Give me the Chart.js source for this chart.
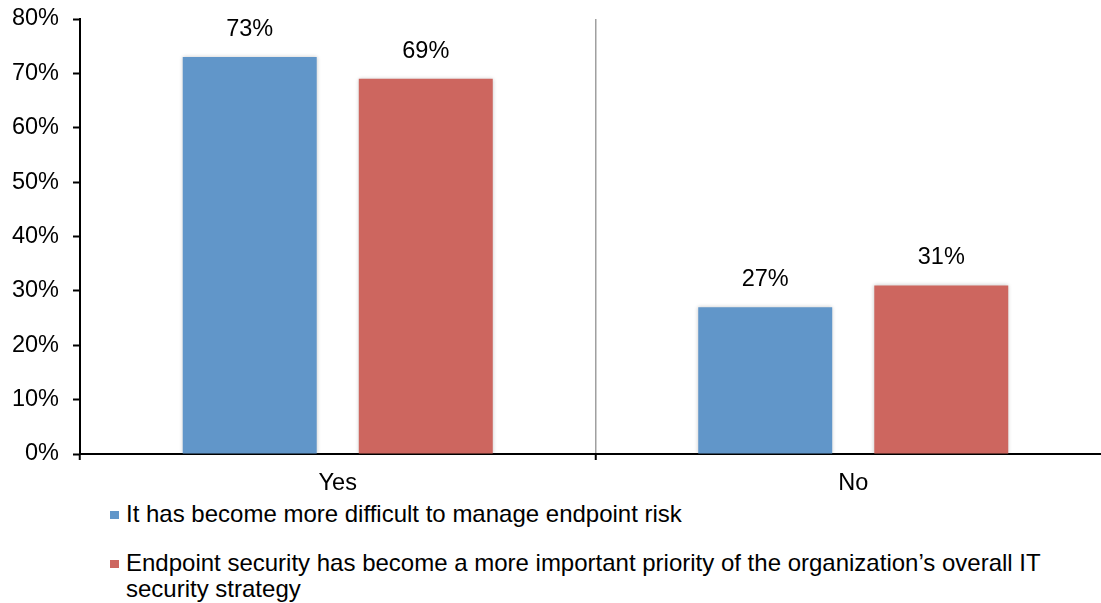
<!DOCTYPE html>
<html>
<head>
<meta charset="utf-8">
<script src="https://cdn.jsdelivr.net/npm/chart.js@4/dist/chart.umd.min.js"></script>
<style>
  html, body { margin: 0; padding: 0; background: #fff; overflow: hidden; }
  body { width: 1101px; height: 603px; position: relative; font-family: "Liberation Sans", Arial, sans-serif; }
  #wrap { position: absolute; left: 0; top: 0; width: 1111px; height: 495px; }
  #legend { position: absolute; left: 110px; top: 501px; width: 960px; font-size: 24px; color: #000; }
  .item { display: flex; align-items: flex-start; line-height: 26px; margin-bottom: 23px; }
  .box { width: 9px; height: 8px; margin-top: 10px; margin-right: 7px; flex: none; }
  .text { width: 935px; }
</style>
</head>
<body>
<div id="wrap"><canvas id="chart"></canvas></div>
<div id="legend"></div>
<script>
// Antworten pro Kategorie
const categories = ['Yes', 'No'];
const difficultRisk = [73, 27];
const higherPriority = [69, 31];
const seriesNames = [
  'It has become more difficult to manage endpoint risk',
  'Endpoint security has become a more important priority of the organization\u2019s overall IT security strategy'
];
const yTicks = [0, 10, 20, 30, 40, 50, 60, 70, 80];
const colors = ['#6196c9', '#cd665f'];

const font = { family: '"Liberation Sans", Arial, sans-serif', size: 23.5 };

// leichter Schatten um die Balken
const barShadow = {
  id: 'barShadow',
  beforeDatasetsDraw(chart) {
    const ctx = chart.ctx;
    ctx.save();
    ctx.shadowColor = 'rgba(0,0,0,0.22)';
    ctx.shadowBlur = 4;
  },
  afterDatasetsDraw(chart) {
    chart.ctx.restore();
  }
};

// Prozentwerte über den Balken
const valueLabels = {
  id: 'valueLabels',
  afterDatasetsDraw(chart) {
    const ctx = chart.ctx;
    ctx.save();
    ctx.font = font.size + 'px ' + font.family;
    ctx.fillStyle = '#000';
    ctx.textAlign = 'center';
    ctx.textBaseline = 'alphabetic';
    chart.data.datasets.forEach((ds, i) => {
      chart.getDatasetMeta(i).data.forEach((bar, j) => {
        ctx.fillText(ds.data[j] + '%', bar.x, bar.y - 21);
      });
    });
    ctx.restore();
  }
};

new Chart(document.getElementById('chart'), {
  type: 'bar',
  data: {
    labels: categories,
    datasets: [
      { label: seriesNames[0], data: difficultRisk, backgroundColor: colors[0] },
      { label: seriesNames[1], data: higherPriority, backgroundColor: colors[1] }
    ]
  },
  options: {
    responsive: true,
    maintainAspectRatio: false,
    animation: false,
    events: [],
    categoryPercentage: 0.683,
    barPercentage: 0.761,
    layout: { padding: { top: 19, right: 0, bottom: 0, left: 0 } },
    plugins: {
      legend: { display: false },
      tooltip: { enabled: false }
    },
    scales: {
      x: {
        grid: {
          offset: true,
          color: ctx => ctx.index === 1 ? '#a0a0a0' : 'rgba(0,0,0,0)',
          lineWidth: 1.5,
          tickColor: '#000',
          tickLength: 6,
          tickWidth: 2
        },
        border: { color: '#000', width: 2 },
        ticks: { color: '#000', font: font, padding: 9 },
        afterFit: scale => { scale.height = 41; }
      },
      y: {
        min: 0,
        max: 80,
        afterBuildTicks: scale => { scale.ticks = yTicks.map(v => ({ value: v })); },
        grid: {
          drawOnChartArea: false,
          tickColor: '#000',
          tickLength: 7,
          tickWidth: 2
        },
        border: { color: '#000', width: 2 },
        ticks: { color: '#000', font: font, padding: 14, callback: v => v + '%' },
        afterFit: scale => {
          scale.width = 80;
          scale.paddingTop = 0;
          scale.paddingBottom = 0;
        }
      }
    }
  },
  plugins: [barShadow, valueLabels]
});

// Legende unter dem Diagramm
const legend = document.getElementById('legend');
seriesNames.forEach((name, i) => {
  const item = document.createElement('div');
  item.className = 'item';
  const box = document.createElement('span');
  box.className = 'box';
  box.style.background = colors[i];
  const text = document.createElement('span');
  text.className = 'text';
  text.textContent = name;
  item.appendChild(box);
  item.appendChild(text);
  legend.appendChild(item);
});
</script>
</body>
</html>
